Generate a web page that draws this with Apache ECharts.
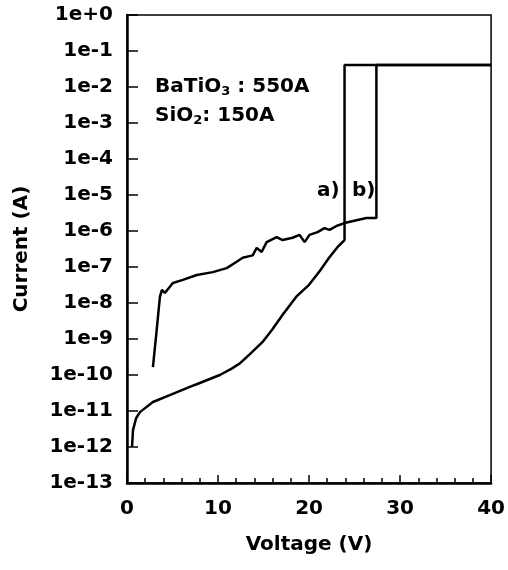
<!DOCTYPE html>
<html>
<head>
<meta charset="utf-8">
<script src="https://cdn.jsdelivr.net/npm/echarts@6/dist/echarts.min.js"></script>
<style>
  html, body { margin: 0; padding: 0; background: #fff; }
  #main { width: 508px; height: 570px; }
</style>
</head>
<body>
<div id="main"></div>
<script>
var chartDom = document.getElementById('main');
var myChart = echarts.init(chartDom);
var option;

// curve a) - smooth one, breaks down near 24 V
let voltA = [0.55, 0.66, 1.0, 1.42, 2.85, 4.7, 6.9, 8.0, 10.2, 11.5, 12.4, 13.5, 14.9, 16.0,
  17.1, 18.6, 20.0, 21.2, 22.2, 23.1, 23.9, 23.9, 40];
let currA = [1.0e-12, 2.95e-12, 6.3e-12, 9.3e-12, 1.78e-11, 2.75e-11, 4.7e-11, 6.0e-11, 1.0e-10,
  1.5e-10, 2.1e-10, 3.8e-10, 8.3e-10, 1.9e-9, 4.7e-9, 1.5e-8, 3.2e-8, 7.9e-8, 1.8e-7, 3.5e-7,
  5.6e-7, 0.041, 0.041];

// curve b) - noisy one, breaks down near 27.4 V
let voltB = [2.85, 3.29, 3.62, 3.84, 4.16, 5.04, 6.14, 7.67, 9.42, 10.96, 12.05, 12.71, 13.81,
  14.25, 14.79, 15.34, 16.44, 17.1, 18.19, 18.96, 19.51, 20.05, 20.93, 21.7, 22.25, 23.01,
  23.89, 25.21, 26.3, 27.4, 27.4, 40];
let currB = [1.66e-10, 2.1e-9, 1.5e-8, 2.3e-8, 1.9e-8, 3.6e-8, 4.4e-8, 6.0e-8, 7.2e-8, 9.3e-8,
  1.4e-7, 1.8e-7, 2.1e-7, 3.4e-7, 2.6e-7, 4.9e-7, 6.8e-7, 5.6e-7, 6.5e-7, 7.8e-7, 4.9e-7,
  7.8e-7, 9.3e-7, 1.2e-6, 1.07e-6, 1.38e-6, 1.66e-6, 2.0e-6, 2.3e-6, 2.3e-6, 0.041, 0.041];

let xTicks = [0, 10, 20, 30, 40];

function pairs(xs, ys) {
  let out = [];
  for (let i = 0; i < xs.length; i++) {
    out.push([xs[i], ys[i]]);
  }
  return out;
}

var font = 'DejaVu Sans';

option = {
  animation: false,
  backgroundColor: '#fff',
  grid: {
    left: 127,
    top: 15,
    right: 16,
    bottom: 87,
    show: true,
    borderColor: '#000',
    borderWidth: 1.5
  },
  xAxis: {
    type: 'value',
    min: xTicks[0],
    max: xTicks[xTicks.length - 1],
    interval: 10,
    name: 'Voltage (V)',
    nameLocation: 'middle',
    nameGap: 52,
    nameTextStyle: { fontFamily: font, fontWeight: 'bold', fontSize: 20, color: '#000' },
    axisLine: { lineStyle: { color: '#000', width: 2.5 } },
    axisTick: { inside: true, length: 8, lineStyle: { color: '#000', width: 1.5 } },
    minorTick: { show: true, splitNumber: 5, length: 5, lineStyle: { color: '#000', width: 1.5 } },
    splitLine: { show: false },
    axisLabel: { fontFamily: font, fontWeight: 'bold', fontSize: 20, color: '#000', margin: 16 }
  },
  yAxis: {
    type: 'log',
    logBase: 10,
    min: 1e-13,
    max: 1,
    interval: 1,
    name: 'Current (A)',
    nameLocation: 'middle',
    nameGap: 95,
    nameTextStyle: { fontFamily: font, fontWeight: 'bold', fontSize: 20, color: '#000' },
    axisLine: { lineStyle: { color: '#000', width: 2.5 } },
    axisTick: { inside: true, length: 11, lineStyle: { color: '#000', width: 1.5 } },
    splitLine: { show: false },
    axisLabel: {
      fontFamily: font, fontWeight: 'bold', fontSize: 20, color: '#000', margin: 14,
      formatter: function (v) {
        let e = Math.round(Math.log10(v));
        return '1e' + (e >= 0 ? '+' : '') + e;
      }
    }
  },
  graphic: [
    {
      type: 'text', left: 155, top: 77,
      style: {
        text: 'BaTiO{s|3} : 550A',
        font: 'bold 20px "DejaVu Sans"',
        fill: '#000',
        rich: { s: { fontSize: 13, fontWeight: 'bold', fontFamily: font, verticalAlign: 'bottom', padding: [10, 0, 0, 0] } }
      }
    },
    {
      type: 'text', left: 155, top: 106,
      style: {
        text: 'SiO{s|2}: 150A',
        font: 'bold 20px "DejaVu Sans"',
        fill: '#000',
        rich: { s: { fontSize: 13, fontWeight: 'bold', fontFamily: font, verticalAlign: 'bottom', padding: [10, 0, 0, 0] } }
      }
    },
    { type: 'text', left: 317, top: 181, style: { text: 'a)', font: 'bold 20px "DejaVu Sans"', fill: '#000' } },
    { type: 'text', left: 352, top: 181, style: { text: 'b)', font: 'bold 20px "DejaVu Sans"', fill: '#000' } }
  ],
  series: [
    {
      name: 'a)',
      type: 'line',
      symbol: 'none',
      lineStyle: { color: '#000', width: 2.5 },
      data: pairs(voltA, currA)
    },
    {
      name: 'b)',
      type: 'line',
      symbol: 'none',
      lineStyle: { color: '#000', width: 2.5 },
      data: pairs(voltB, currB)
    }
  ]
};

option && myChart.setOption(option);
</script>
</body>
</html>
